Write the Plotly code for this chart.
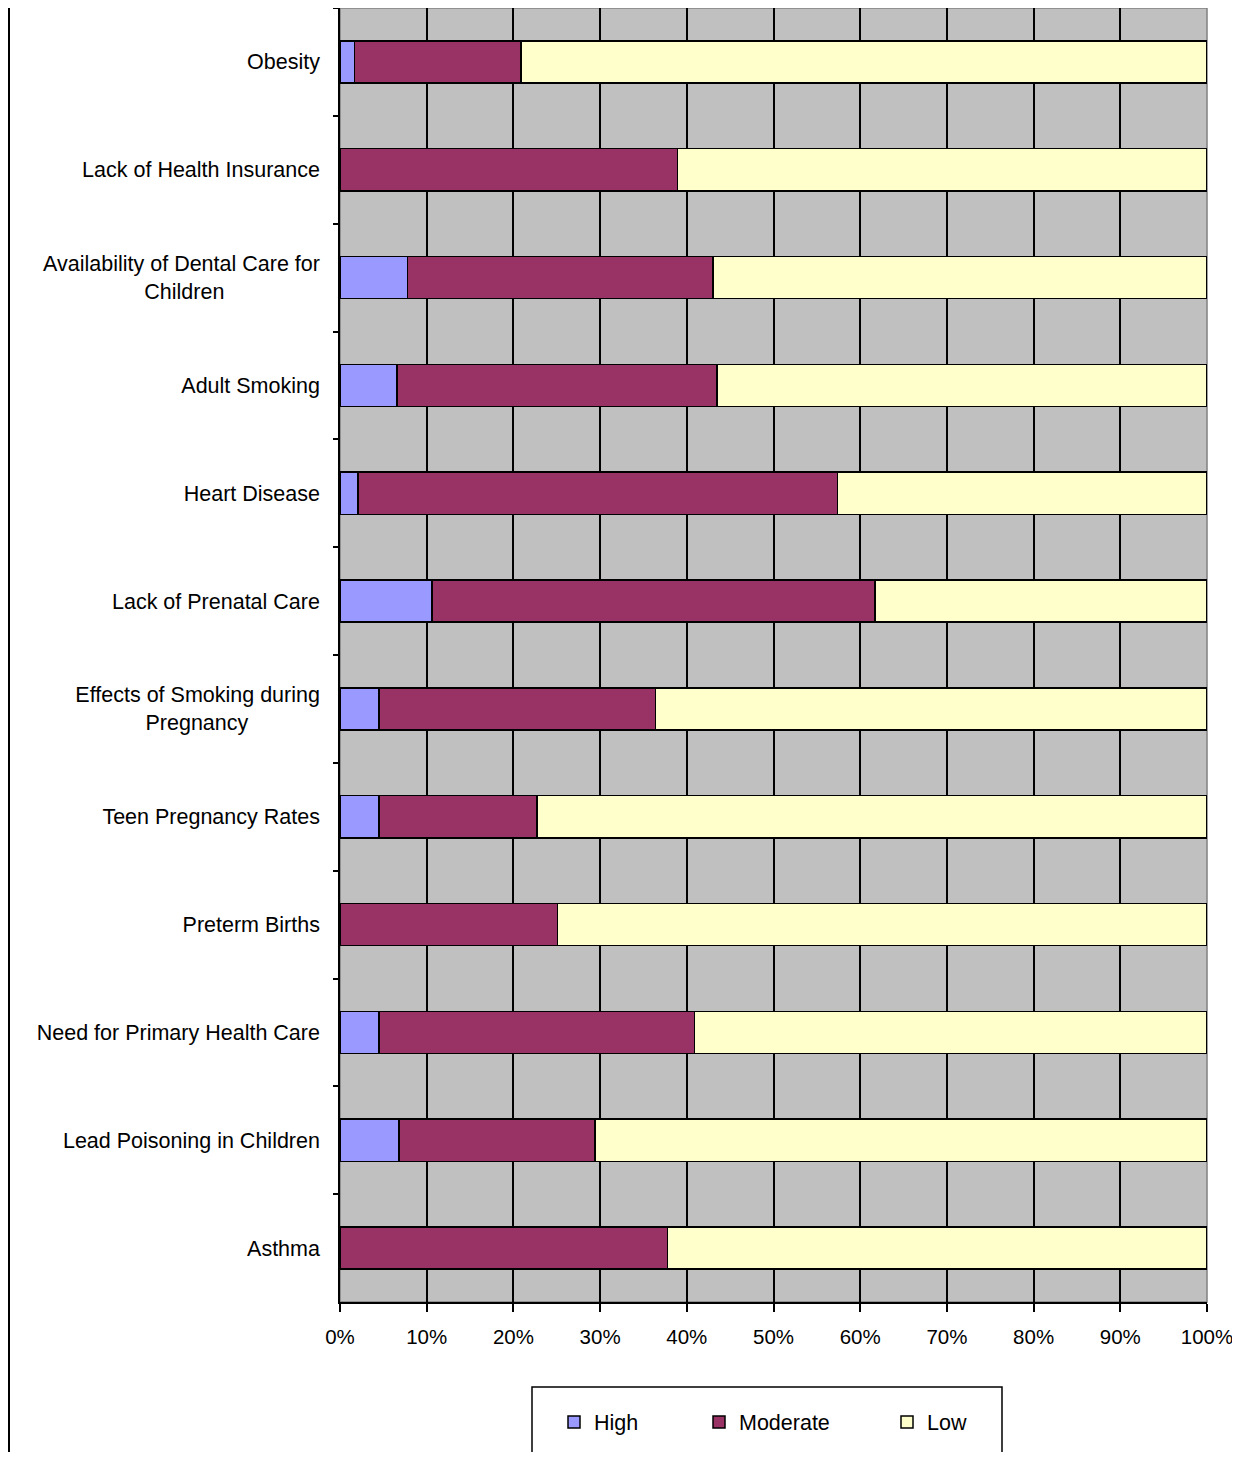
import plotly.graph_objects as go

categories = [
    "Obesity",
    "Lack of Health Insurance",
    "Availability of Dental Care for<br>Children",
    "Adult Smoking",
    "Heart Disease",
    "Lack of Prenatal Care",
    "Effects of Smoking during<br>Pregnancy",
    "Teen Pregnancy Rates",
    "Preterm Births",
    "Need for Primary Health Care",
    "Lead Poisoning in Children",
    "Asthma",
]
high = [1.7, 0.0, 7.8, 6.6, 2.1, 10.6, 4.5, 4.5, 0.0, 4.5, 6.8, 0.0]
moderate = [19.2, 38.9, 35.2, 36.9, 55.3, 51.1, 31.9, 18.2, 25.1, 36.4, 22.6, 37.8]
low = [79.1, 61.1, 57.0, 56.5, 42.6, 38.3, 63.6, 77.3, 74.9, 59.1, 70.6, 62.2]
x_ticks = [0, 10, 20, 30, 40, 50, 60, 70, 80, 90, 100]
x_tick_labels = ["0%", "10%", "20%", "30%", "40%", "50%", "60%", "70%", "80%", "90%", "100%"]

NB = "\u00a0"
labels = []
for c in categories:
    if c.startswith("Availability"):
        c = c.replace("<br>Children", "<br>Children" + NB * 16)
    elif c.startswith("Effects"):
        c = c.replace("<br>Pregnancy", "<br>Pregnancy" + NB * 12)
    labels.append(c)

FONT = "Liberation Sans, Arial, sans-serif"
FS = 21.5

OFF = 8  # page body margin
W, H = 1240 - 2 * OFF, 1460 - 2 * OFF
L, R, T, B = 332, 25, 0, 150
PW, PH = W - L - R, H - T - B


def px_x(p):
    return (p - OFF - L) / PW


def px_y(p):
    return (H - B - (p - OFF)) / PH


fig = go.Figure()
series = [("High", high, "#9999FF", "legend"),
          ("Moderate", moderate, "#993366", "legend2"),
          ("Low", low, "#FFFFCC", "legend3")]
for name, vals, col, lg in series:
    fig.add_trace(go.Bar(
        y=labels, x=vals, name=name, orientation="h", showlegend=True,
        marker=dict(color=col, line=dict(color="black", width=1.5)),
        legend=lg,
    ))

leg_common = dict(orientation="h", yanchor="middle", y=px_y(1422), xanchor="left",
                  bgcolor="rgba(0,0,0,0)", borderwidth=0,
                  font=dict(family=FONT, size=FS, color="black"))

fig.update_layout(
    width=W, height=H,
    margin=dict(l=L, r=R, t=T, b=B),
    barmode="stack",
    bargap=0.61,
    showlegend=True,
    paper_bgcolor="white",
    plot_bgcolor="#C0C0C0",
    font=dict(family=FONT, size=FS, color="black"),
    legend=dict(x=px_x(554), **leg_common),
    legend2=dict(x=px_x(699), **leg_common),
    legend3=dict(x=px_x(887), **leg_common),
    xaxis=dict(
        range=[0, 100], tickmode="array", tickvals=x_ticks, ticktext=x_tick_labels,
        showgrid=True, gridcolor="black", gridwidth=1.5,
        showline=True, linecolor="black", linewidth=1.5,
        ticks="outside", ticklen=8, tickcolor="black", tickwidth=1.5,
        ticklabelstandoff=8, ticklabeloverflow="allow",
        zeroline=False, fixedrange=True,
        tickfont=dict(family=FONT, size=20.5, color="black"),
    ),
    yaxis=dict(
        autorange="reversed", type="category",
        showgrid=False, showline=True, linecolor="black", linewidth=1.5,
        ticks="outside", ticklen=5, tickcolor="black", tickwidth=1.5,
        tickson="boundaries", ticklabelstandoff=14,
        tickfont=dict(family=FONT, size=FS, color="black"),
    ),
    shapes=[
        dict(type="rect", xref="paper", yref="paper", x0=0, x1=1, y0=0, y1=1,
             line=dict(color="#808080", width=1.5), layer="below"),
        dict(type="line", xref="paper", yref="paper", x0=px_x(9), x1=px_x(9),
             y0=px_y(0), y1=px_y(1470), line=dict(color="black", width=2)),
        dict(type="rect", xref="paper", yref="paper", x0=px_x(532), x1=px_x(1002),
             y0=px_y(1387), y1=px_y(1480), line=dict(color="black", width=1.5),
             fillcolor="rgba(0,0,0,0)"),
    ],
)

fig.write_html("out.html")
